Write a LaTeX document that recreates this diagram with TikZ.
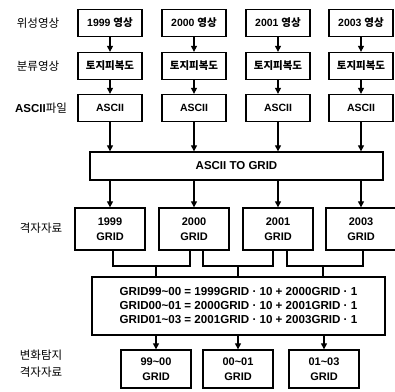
\documentclass[tikz,border=0pt]{standalone}
\usepackage{fontspec}
\setmainfont{Liberation Sans}
\newfontfamily\kr{Noto Sans CJK KR}
\usepackage{tikz}
\usetikzlibrary{arrows.meta}

\begin{document}
\begin{tikzpicture}[x=1pt,y=-1pt,line width=1.1pt,
  >={Triangle[length=6pt,width=6pt]},
  box/.style={draw,line width=1.3pt,minimum width=64pt,minimum height=27pt,inner sep=1pt,
    font=\bfseries\fontsize{10.5}{12}\selectfont,align=center},
  gbox/.style={box,minimum width=70pt,minimum height=42pt,font=\bfseries\fontsize{11}{15}\selectfont},
  side/.style={font=\kr\fontsize{11.5}{17}\selectfont,align=center}]
\useasboundingbox (0,0) rectangle (395,391);

\node[side] (l1) at (38,23) {위성영상};
\node[side] (l2) at (38,66) {분류영상};
\node[side] (l3) at (41,108) {{\rmfamily\bfseries ASCII}파일};
\node[side] (l4) at (41,228) {격자자료};
\node[side] (l5) at (41,364) {변화탐지\\격자자료};

\node[box,minimum width=293pt,minimum height=28pt,font=\bfseries\fontsize{11.5}{12}\selectfont] (conv) at (236.5,166) {ASCII TO GRID};

\foreach \x/\yr [count=\i] in {110/1999,194/2000,278/2001,361/2003}
{
  \node[box] (a\i) at (\x,23) {\yr\ {\kr 영상}};
  \node[box] (b\i) at (\x,66) {\kr 토지피복도};
  \node[box] (c\i) at (\x,108) {ASCII};
  \node[gbox] (g\i) at (\x,229) {\yr\\GRID};
  \draw[->] (a\i) -- (b\i);
  \draw[->] (b\i) -- (c\i);
  \draw[->] (c\i) -- (c\i |- conv.north);
  \draw[->] (conv.south -| g\i) -- (g\i);
}

\node[box,minimum width=293pt,minimum height=58pt,font=\bfseries\fontsize{11.6}{14}\selectfont] (form) at (238.5,306)
  {GRID99\textasciitilde00 = 1999GRID · 10 + 2000GRID · 1\\
   GRID00\textasciitilde01 = 2000GRID · 10 + 2001GRID · 1\\
   GRID01\textasciitilde03 = 2001GRID · 10 + 2003GRID · 1};

\coordinate (m1) at (156,266);
\coordinate (m2) at (238,266);
\coordinate (m3) at (323,266);
\draw ([xshift=3pt]g1.south) |- (m1) -| ([xshift=-4pt]g2.south);
\draw ([xshift=9pt]g2.south) |- (m2) -| ([xshift=-5pt]g3.south);
\draw ([xshift=9pt]g3.south) |- (m3) -| ([xshift=2pt]g4.south);

\foreach \x/\t [count=\i] in {156/99\textasciitilde00,238/00\textasciitilde01,324/01\textasciitilde03}
{
  \node[gbox,minimum height=38pt] (r\i) at (\x,369) {\t\\GRID};
  \draw (m\i) -- (m\i |- form.north);
  \draw[->] (form.south -| r\i) -- (r\i);
}

\end{tikzpicture}
\end{document}
